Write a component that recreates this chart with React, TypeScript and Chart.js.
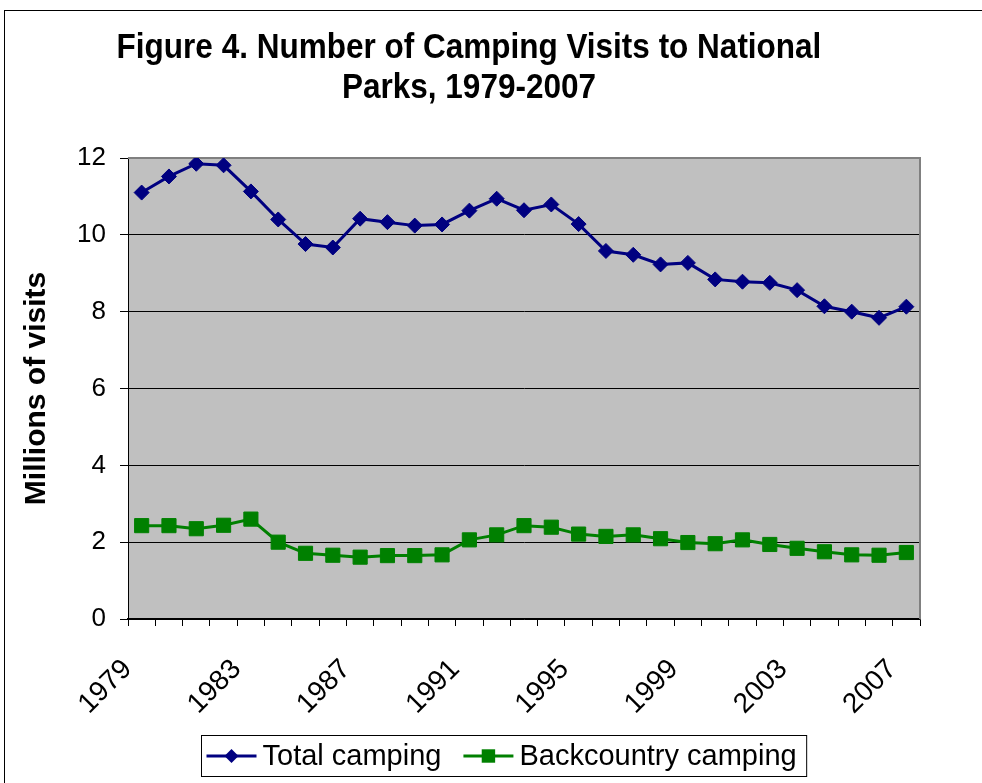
import { useEffect, useRef } from 'react';
import { Chart, registerables } from 'chart.js';

Chart.register(...registerables);

// Camping visits, millions, by year
const years = [
  '1979', '1980', '1981', '1982', '1983', '1984', '1985', '1986', '1987', '1988',
  '1989', '1990', '1991', '1992', '1993', '1994', '1995', '1996', '1997', '1998',
  '1999', '2000', '2001', '2002', '2003', '2004', '2005', '2006', '2007',
];

const totalCamping = [
  11.10, 11.52, 11.85, 11.81, 11.13, 10.40, 9.76, 9.67, 10.42, 10.33,
  10.24, 10.27, 10.63, 10.94, 10.64, 10.79, 10.28, 9.58, 9.48, 9.23,
  9.27, 8.84, 8.78, 8.75, 8.56, 8.14, 8.00, 7.84, 8.13,
];

const backcountryCamping = [
  2.43, 2.43, 2.35, 2.44, 2.60, 2.00, 1.71, 1.66, 1.61, 1.65,
  1.65, 1.67, 2.06, 2.19, 2.43, 2.39, 2.21, 2.15, 2.19, 2.09,
  1.99, 1.96, 2.06, 1.94, 1.84, 1.75, 1.67, 1.66, 1.73,
];

const titleLines = ['Figure 4. Number of Camping Visits to National', 'Parks, 1979-2007'];
const yAxisTitle = 'Millions of visits';
const yMin = 0;
const yMax = 12;
const yStep = 2;
const labelEvery = 4;

const FONT = "'Liberation Sans', Arial, Helvetica, sans-serif";
const NAVY = '#000080';
const GREEN = '#008000';

function drawMarker(ctx: CanvasRenderingContext2D, style: string, x: number, y: number, size: number, color: string) {
  ctx.fillStyle = color;
  ctx.beginPath();
  if (style === 'rectRot') {
    ctx.moveTo(x - size, y);
    ctx.lineTo(x, y - size);
    ctx.lineTo(x + size, y);
    ctx.lineTo(x, y + size);
    ctx.closePath();
  } else {
    const h = size * Math.SQRT1_2;
    ctx.rect(x - h, y - h, h * 2, h * 2);
  }
  ctx.fill();
}

// Outer frame, grey plot area and its grey top/right edges
const framePlugin = {
  id: 'frame',
  beforeDraw(chart: any) {
    const { ctx, chartArea: a } = chart;
    ctx.save();
    ctx.fillStyle = '#ffffff';
    ctx.fillRect(0, 0, chart.width, chart.height);
    ctx.strokeStyle = '#000000';
    ctx.lineWidth = 1;
    ctx.strokeRect(4.5, 10.5, chart.width + 40, chart.height + 40);
    ctx.fillStyle = '#C0C0C0';
    ctx.fillRect(a.left, a.top, a.right - a.left, a.bottom - a.top);
    ctx.restore();
  },
  beforeDatasetsDraw(chart: any) {
    const { ctx, chartArea: a } = chart;
    ctx.save();
    ctx.strokeStyle = '#808080';
    ctx.lineWidth = 2;
    ctx.beginPath();
    ctx.moveTo(a.left, a.top);
    ctx.lineTo(a.right, a.top);
    ctx.lineTo(a.right, a.bottom);
    ctx.stroke();
    ctx.restore();
  },
};

// Two-line bold heading in a slightly condensed face
const headingPlugin = {
  id: 'heading',
  afterDraw(chart: any) {
    const { ctx } = chart;
    ctx.save();
    ctx.font = `bold 35px ${FONT}`;
    ctx.fillStyle = '#000000';
    ctx.textAlign = 'center';
    ctx.textBaseline = 'alphabetic';
    const baselines = [58, 98];
    titleLines.forEach((line, i) => {
      ctx.save();
      ctx.translate(469, baselines[i]);
      ctx.scale(0.9, 1);
      ctx.fillText(line, 0, 0);
      ctx.restore();
    });
    ctx.restore();
  },
};

// Boxed legend under the x axis, line-marker-line keys
const boxedLegendPlugin = {
  id: 'boxedLegend',
  afterDraw(chart: any) {
    const { ctx } = chart;
    const datasets = chart.data.datasets;
    ctx.save();
    ctx.font = `29px ${FONT}`;
    const padL = 5;
    const padR = 10;
    const lineLen = 50;
    const gap = 6;
    const itemGap = 22;
    const widths = datasets.map((d: any) => ctx.measureText(d.label).width);
    let total = padL + padR;
    widths.forEach((w: number, i: number) => {
      total += lineLen + gap + w + (i < widths.length - 1 ? itemGap : 0);
    });
    const cx = 504;
    const top = 735;
    const height = 41;
    const left = Math.round(cx - total / 2) + 0.5;
    ctx.fillStyle = '#ffffff';
    ctx.fillRect(left, top + 0.5, total, height);
    ctx.strokeStyle = '#000000';
    ctx.lineWidth = 1;
    ctx.strokeRect(left, top + 0.5, total, height);
    const my = top + height / 2 + 0.5;
    let x = left + padL;
    datasets.forEach((d: any, i: number) => {
      ctx.strokeStyle = d.borderColor;
      ctx.lineWidth = 3;
      ctx.beginPath();
      ctx.moveTo(x, my);
      ctx.lineTo(x + lineLen, my);
      ctx.stroke();
      drawMarker(ctx, d.pointStyle, x + lineLen / 2, my, d.pointStyle === 'rectRot' ? 7 : 9.5, d.pointBackgroundColor);
      x += lineLen + gap;
      ctx.fillStyle = '#000000';
      ctx.textBaseline = 'middle';
      ctx.textAlign = 'left';
      ctx.fillText(d.label, x, my + 1);
      x += widths[i] + itemGap;
    });
    ctx.restore();
  },
};

export default function App() {
  const canvasRef = useRef<HTMLCanvasElement | null>(null);

  useEffect(() => {
    const canvas = canvasRef.current;
    if (!canvas) return;
    const chart = new Chart(canvas, {
      type: 'line',
      data: {
        labels: years,
        datasets: [
          {
            label: 'Total camping',
            data: totalCamping,
            borderColor: NAVY,
            backgroundColor: NAVY,
            pointBackgroundColor: NAVY,
            pointBorderColor: NAVY,
            pointStyle: 'rectRot',
            pointRadius: 7.5,
            pointBorderWidth: 1,
            borderWidth: 3,
            tension: 0,
            fill: false,
          },
          {
            label: 'Backcountry camping',
            data: backcountryCamping,
            borderColor: GREEN,
            backgroundColor: GREEN,
            pointBackgroundColor: GREEN,
            pointBorderColor: GREEN,
            pointStyle: 'rect',
            pointRadius: 10,
            pointBorderWidth: 1,
            borderWidth: 3,
            tension: 0,
            fill: false,
          },
        ],
      },
      options: {
        animation: false,
        responsive: false,
        devicePixelRatio: 1,
        layout: { padding: { top: 158, left: 18, right: 62, bottom: 0 } },
        plugins: {
          legend: { display: false },
          tooltip: { enabled: false },
          title: { display: false },
        },
        scales: {
          x: {
            type: 'category',
            offset: true,
            grid: {
              display: true,
              drawOnChartArea: false,
              drawTicks: true,
              tickLength: 7,
              offset: true,
              color: '#000000',
              tickColor: '#000000',
            },
            border: { display: true, color: '#000000', width: 1.5 },
            ticks: {
              autoSkip: false,
              minRotation: 45,
              maxRotation: 45,
              padding: 27,
              labelOffset: -14,
              color: '#000000',
              font: { family: FONT, size: 28 },
              callback: (_v: any, index: number) => (index % labelEvery === 0 ? years[index] : ''),
            },
            afterFit: (scale: any) => {
              scale.height = 164;
            },
          },
          y: {
            min: yMin,
            max: yMax,
            ticks: {
              stepSize: yStep,
              padding: 14,
              color: '#000000',
              font: { family: FONT, size: 26 },
            },
            grid: {
              drawTicks: true,
              tickLength: 8,
              color: (c: any) => (c.tick && c.tick.value === yMax ? 'rgba(0,0,0,0)' : '#000000'),
              tickColor: '#000000',
              lineWidth: 1,
            },
            border: { display: true, color: '#000000', width: 1 },
            title: {
              display: true,
              text: yAxisTitle,
              color: '#000000',
              font: { family: FONT, size: 30, weight: 'bold', lineHeight: 1.2 },
              padding: { top: 1, bottom: 0 },
            },
            afterFit: (scale: any) => {
              scale.width = 110;
            },
          },
        },
      },
      plugins: [framePlugin, headingPlugin, boxedLegendPlugin],
    });
    return () => chart.destroy();
  }, []);

  return (
    <div style={{ position: 'fixed', left: 0, top: 0, width: 982, height: 783, background: '#ffffff' }}>
      <canvas ref={canvasRef} width={982} height={783} />
    </div>
  );
}
